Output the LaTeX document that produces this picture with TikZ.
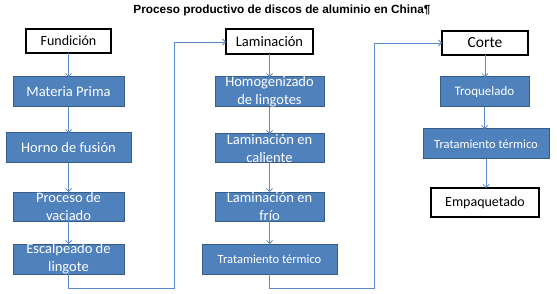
\documentclass[tikz,border=0pt]{standalone}
\usepackage{fontspec}
\setmainfont{Carlito}
\newfontfamily\titlefont{Liberation Sans}
\usetikzlibrary{arrows.meta}
\definecolor{boxblue}{HTML}{4F81BD}
\definecolor{boxedge}{HTML}{385D8A}
\definecolor{linkblue}{HTML}{5B8BC9}
\tikzset{
  bluebox/.style={draw=boxedge, fill=boxblue, line width=1pt, inner sep=0pt, outer sep=0pt},
  whitebox/.style={draw=black, fill=white, line width=1.1pt, inner sep=0pt, outer sep=0pt},
  wtxt/.style={text=white, align=center, inner sep=0pt, font=\fontsize{14.5}{18}\selectfont},
  btxt/.style={text=black, align=center, inner sep=0pt, font=\fontsize{14}{17}\selectfont},
  link/.style={draw=linkblue, line width=0.8pt, -{Straight Barb[length=3pt,width=6pt]}},
}
\begin{document}
\begin{tikzpicture}[x=1pt,y=-1pt]
\useasboundingbox (0,0) rectangle (557,294);
\node[font=\titlefont\bfseries\fontsize{11.8}{13}\selectfont, inner sep=0pt] (title) at (282,10) {Proceso productivo de discos de aluminio en China¶};

% column 1
\node[whitebox, minimum width=85pt, minimum height=24pt] (fun) at (68.5,41) {};
\node[btxt] at (fun) {Fundición};
\node[bluebox, minimum width=111pt, minimum height=30pt] (mat) at (68.5,92) {};
\node[wtxt] at (mat) {Materia Prima};
\node[bluebox, minimum width=125pt, minimum height=30pt] (hor) at (68.5,148) {};
\node[wtxt] at (hor) {Horno de fusión};
\node[bluebox, minimum width=111pt, minimum height=29pt] (pro) at (68.5,206.5) {};
\node[wtxt] at (pro) {Proceso de\\vaciado};
\node[bluebox, minimum width=111pt, minimum height=30pt] (esc) at (68.5,259) {};
\node[wtxt] at (esc) {Escalpeado de\\lingote};

% column 2
\node[whitebox, minimum width=87pt, minimum height=25pt] (lam) at (269.5,41.5) {};
\node[btxt, font=\fontsize{14.5}{17}\selectfont] at (lam) {Laminación};
\node[bluebox, minimum width=109pt, minimum height=30pt] (hom) at (269.5,92) {};
\node[wtxt] at (hom) {Homogenizado\\de lingotes};
\node[bluebox, minimum width=109pt, minimum height=29pt] (cal) at (269.5,148.5) {};
\node[wtxt] at (cal) {Laminación en\\caliente};
\node[bluebox, minimum width=109pt, minimum height=29pt] (fri) at (269.5,206.5) {};
\node[wtxt] at (fri) {Laminación en\\frío};
\node[bluebox, minimum width=135pt, minimum height=30pt] (tr1) at (269.5,259) {};
\node[wtxt, font=\fontsize{12.5}{14}\selectfont] at (tr1) {Tratamiento térmico};

% column 3
\node[whitebox, minimum width=86pt, minimum height=24pt] (cor) at (485,43) {};
\node[btxt, font=\fontsize{15.5}{17}\selectfont] at (cor) {Corte};
\node[bluebox, minimum width=89pt, minimum height=30pt] (tro) at (484.5,92) {};
\node[wtxt, font=\fontsize{13}{14}\selectfont] at (tro) {Troquelado};
\node[bluebox, minimum width=126pt, minimum height=30pt] (tr2) at (486,144) {};
\node[wtxt, font=\fontsize{12.5}{14}\selectfont] at (tr2) {Tratamiento térmico};
\node[whitebox, minimum width=108pt, minimum height=29pt] (emp) at (485,202.5) {};
\node[btxt] at (emp) {Empaquetado};

% vertical links
\foreach \a/\b in {fun/mat, mat/hor, hor/pro, pro/esc, lam/hom, hom/cal, cal/fri, fri/tr1, cor/tro, tro/tr2, tr2/emp}
  \draw[link] (\a.south) -- (\a.south |- \b.north);

% loop links
\coordinate (l1a) at (68.5,288);
\coordinate (l1b) at (174,288);
\coordinate (l1c) at (174,42);
\draw[link] (esc.south) -- (l1a) -- (l1b) -- (l1c) -- (lam.west |- l1c);
\coordinate (l2a) at (269.5,288);
\coordinate (l2b) at (374,288);
\coordinate (l2c) at (374,43);
\draw[link] (tr1.south) -- (l2a) -- (l2b) -- (l2c) -- (cor.west |- l2c);
\end{tikzpicture}
\end{document}
